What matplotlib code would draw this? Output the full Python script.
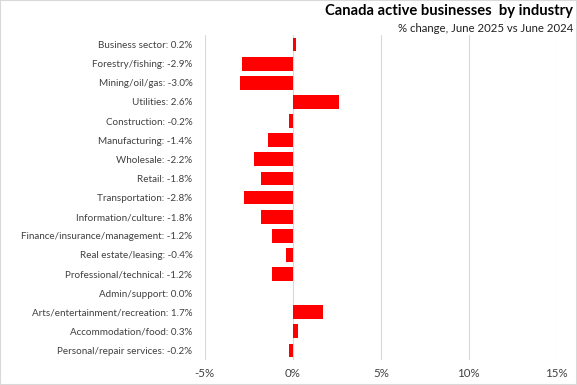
import matplotlib.pyplot as plt
from matplotlib.patches import Rectangle

industries = ["Business sector", "Forestry/fishing", "Mining/oil/gas", "Utilities",
              "Construction", "Manufacturing", "Wholesale", "Retail", "Transportation",
              "Information/culture", "Finance/insurance/management", "Real estate/leasing",
              "Professional/technical", "Admin/support", "Arts/entertainment/recreation",
              "Accommodation/food", "Personal/repair services"]
changes = [0.2, -2.9, -3.0, 2.6, -0.2, -1.4, -2.2, -1.8, -2.8, -1.8, -1.2, -0.4,
           -1.2, 0.0, 1.7, 0.3, -0.2]
xticks = [-5, 0, 5, 10, 15]

labels = [f"{n}: {v:.1f}%" for n, v in zip(industries, changes)]

plt.rcParams['font.family'] = ['Lato', 'DejaVu Sans']
fig = plt.figure(figsize=(5.77, 3.85), dpi=100)
ax = fig.add_axes([0.355, 0.065, 0.61, 0.844])

y = list(range(len(industries)))
ax.barh(y, changes, height=0.72, color="#FF0000", zorder=3)
ax.set_ylim(len(industries) - 0.5, -0.5)
ax.set_xlim(-5, 15)
ax.set_xticks(xticks)
ax.set_xticklabels([f"{t}%" for t in xticks], fontsize=8.3, color="#404040")
ax.set_yticks(y)
ax.set_yticklabels(labels, fontsize=7.1, color="#404040")
ax.tick_params(axis="both", length=0)
ax.tick_params(axis="y", pad=9)
ax.tick_params(axis="x", pad=6)
ax.grid(axis="x", color="#D9D9D9", linewidth=0.8, zorder=0)
for s in ax.spines.values():
    s.set_visible(False)

fig.text(0.993, 0.962, "Canada active businesses  by industry", ha="right",
         fontsize=10.6, fontweight="bold", color="black")
fig.text(0.993, 0.918, "% change, June 2025 vs June 2024", ha="right",
         fontsize=8.2, color="#202020")
fig.patches.append(Rectangle((0, 0), 1, 1, transform=fig.transFigure, fill=False,
                             edgecolor="#D9D9D9", linewidth=1.5))

fig.savefig("out.png", dpi=100)
